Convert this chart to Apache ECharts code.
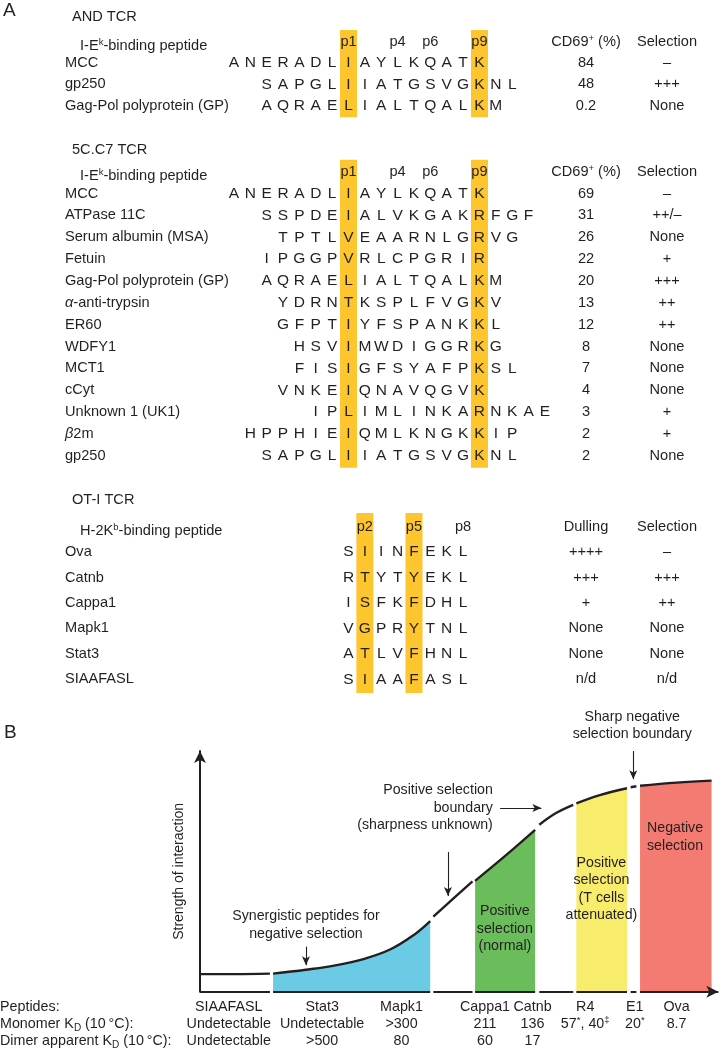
<!DOCTYPE html>
<html><head><meta charset="utf-8">
<script src="https://cdn.jsdelivr.net/npm/echarts@6/dist/echarts.min.js"></script>
<style>html,body{margin:0;padding:0;background:#fff}#c{width:725px;height:1050px}</style>
</head><body><div id="c"></div>
<script>
// ================= DATA =================
// Panel A — AND TCR (I-Ek-binding peptides)
const andPeptides = ['MCC', 'gp250', 'Gag-Pol polyprotein (GP)'];
const andSequences = ['ANERADLIAYLKQATK', 'SAPGLIIATGSVGKNL', 'AQRAELIALTQALKM'];
const andP1Index = [7, 5, 5];
const andCD69 = ['84', '48', '0.2'];
const andSelection = ['\u2013', '+++', 'None'];

// Panel A — 5C.C7 TCR
const c7Peptides = ['MCC', 'ATPase 11C', 'Serum albumin (MSA)', 'Fetuin', 'Gag-Pol polyprotein (GP)',
  '{it|\u03b1}-anti-trypsin', 'ER60', 'WDFY1', 'MCT1', 'cCyt', 'Unknown 1 (UK1)', '{it|\u03b2}2m', 'gp250'];
const c7Sequences = ['ANERADLIAYLKQATK', 'SSPDEIALVKGAKRFGF', 'TPTLVEAARNLGRVG', 'IPGGPVRLCPGRIR',
  'AQRAELIALTQALKM', 'YDRNTKSPLFVGKV', 'GFPTIYFSPANKKL', 'HSVIMWDIGGRKG', 'FISIGFSYAFPKSL',
  'VNKEIQNAVQGVK', 'IPLIMLINKARNKAE', 'HPPHIEIQMLKNGKKIP', 'SAPGLIIATGSVGKNL'];
const c7P1Index = [7, 5, 4, 5, 5, 4, 4, 3, 3, 4, 2, 6, 5];
const c7CD69 = ['69', '31', '26', '22', '20', '13', '12', '8', '7', '4', '3', '2', '2'];
const c7Selection = ['\u2013', '++/\u2013', 'None', '+', '+++', '++', '++', 'None', 'None', 'None', '+', '+', 'None'];

// MHC II pocket labels / anchors
const mhc2PosLabels = ['p1', 'p4', 'p6', 'p9'];
const mhc2PosNumbers = [1, 4, 6, 9];
const mhc2Anchors = [1, 9];

// Panel A — OT-I TCR (H-2Kb-binding peptides)
const otiPeptides = ['Ova', 'Catnb', 'Cappa1', 'Mapk1', 'Stat3', 'SIAAFASL'];
const otiSequences = ['SIINFEKL', 'RTYTYEKL', 'ISFKFDHL', 'VGPRYTNL', 'ATLVFHNL', 'SIAAFASL'];
const otiP1Index = [0, 0, 0, 0, 0, 0];
const otiDulling = ['++++', '+++', '+', 'None', 'None', 'n/d'];
const otiSelection = ['\u2013', '+++', '++', 'None', 'None', 'n/d'];
const mhc1PosLabels = ['p2', 'p5', 'p8'];
const mhc1PosNumbers = [2, 5, 8];
const mhc1Anchors = [2, 5];

// Panel B — schematic curve segments [strength position, strength of interaction]
const curveSIAAFASL = [[0, 7.2], [6.7, 7.2], [13.4, 7.4]];
const curveSynergistic = [[14.0, 7.4], [20.3, 9.0], [26.2, 10.9], [31.3, 13.4], [36.4, 17.3], [40.9, 23.2], [44.1, 29.0]];
const curvePosBoundary = [[44.7, 30.8], [48.4, 38.0], [52.2, 45.3]];
const curvePosNormal = [[52.7, 45.5], [58.4, 55.6], [64.2, 66.4]];
const curveUpper = [[65.0, 68.5], [68.2, 73.3], [71.5, 76.7]];
const curveAttenuated = [[72.1, 77.3], [76.6, 80.7], [81.8, 83.5]];
const curveNegBoundary = [[82.5, 83.9], [83.6, 84.3]];
const curveNegative = [[84.3, 84.5], [91.3, 85.8], [98.0, 86.6]];
const baselineSegments = [[0, 13.4], [14.0, 44.1], [44.7, 52.2], [52.7, 64.2], [65.0, 71.5], [72.1, 81.8], [82.5, 83.6], [84.3, 99.3]];

// Panel B — table below the axis
const tableRowLabels = ['Peptides:', 'Monomer K{sub|D} (10\u2009\u00b0C):', 'Dimer apparent K{sub|D} (10\u2009\u00b0C):'];
const bPeptides = ['SIAAFASL', 'Stat3', 'Mapk1', 'Cappa1', 'Catnb', 'R4', 'E1', 'Ova'];
const monomerKD = ['Undetectable', 'Undetectable', '>300', '211', '136', '57{sup|*}, 40{sup|\u2021}', '20{sup|*}', '8.7'];
const dimerKD = ['Undetectable', '>500', '80', '60', '17', '', '', ''];

// ================= LAYOUT =================
const FONT = '"Liberation Sans", Arial, Helvetica, sans-serif';
const INK = '#231f20';
const HILITE = '#fdc62e';
const A_P1_PX = 348.5, A_PXU = 16.37;
const A_MIN = -A_P1_PX / A_PXU, A_MAX = (725 - A_P1_PX) / A_PXU;
const ux = px => (px - A_P1_PX) / A_PXU;
const NAME_X = ux(65), HDR_NAME_X = ux(80), COL3_X = ux(586), COL4_X = ux(667);
const A_FS = 14.6;

const B_X0 = 200, B_PXU = 5.22, B_Y0 = 991.7, B_PYU = 2.437, B_TOP = 751;
const B_YMAX = (B_Y0 - B_TOP) / B_PYU;
const T_MIN = -B_X0 / B_PXU, T_MAX = (725 - B_X0) / B_PXU;
const peptideXPos = [5.5, 23.4, 38.6, 54.6, 63.7, 73.8, 83.3, 91.3];

const RICH = {
  sup: {fontSize: 9.5, verticalAlign: 'top', lineHeight: 9, fontFamily: FONT, fill: INK},
  sub: {fontSize: 10, verticalAlign: 'bottom', lineHeight: 9, fontFamily: FONT, fill: INK},
  it: {fontStyle: 'italic', fontSize: A_FS, fontFamily: FONT, fill: INK}
};

function sectionItems(names, seqs, p1s, c3, c4, posLabels, posNums, hdrName, hdr3, hdr4) {
  const items = [];
  items.push({x: HDR_NAME_X, y: 0, text: hdrName, align: 'left', dy: 4, size: A_FS});
  posLabels.forEach((t, k) => items.push({x: posNums[k] - 1, y: 0, text: t, size: A_FS}));
  items.push({x: COL3_X, y: 0, text: hdr3, size: A_FS});
  items.push({x: COL4_X, y: 0, text: hdr4, size: A_FS});
  names.forEach((n, i) => {
    items.push({x: NAME_X, y: i + 1, text: n, align: 'left', size: A_FS});
    const s = seqs[i];
    for (let j = 0; j < s.length; j++) items.push({x: j - p1s[i], y: i + 1, text: s[j], size: 15.5});
    items.push({x: COL3_X, y: i + 1, text: c3[i], size: A_FS});
    items.push({x: COL4_X, y: i + 1, text: c4[i], size: A_FS});
  });
  return items;
}

function textSeries(idx, items) {
  return {
    type: 'custom', xAxisIndex: idx, yAxisIndex: idx, z: 10, silent: true, clip: false,
    data: items.map((it, i) => [it.x, it.y, i]),
    encode: {x: 0, y: 1},
    renderItem: (params, api) => {
      const it = items[api.value(2)];
      const p = api.coord([api.value(0), api.value(1)]);
      return {type: 'text', x: p[0], y: p[1] + (it.dy || 0), style: {
        text: it.text, fill: INK, fontSize: it.size || 14, fontFamily: FONT,
        align: it.align || 'center', verticalAlign: 'middle', lineHeight: it.lh || 17.5, rich: RICH}};
    }
  };
}

function hiliteSeries(idx, anchors) {
  return {
    type: 'custom', xAxisIndex: idx, yAxisIndex: idx, z: 1, silent: true,
    data: anchors.map(a => [a - 1, 0]),
    encode: {x: 0, y: 1},
    renderItem: (params, api) => {
      const c = api.value(0);
      const a = api.coord([c - 0.52, 0])[0], b = api.coord([c + 0.52, 0])[0];
      const cs = params.coordSys;
      return {type: 'rect', shape: {x: a, y: cs.y - 1, width: b - a, height: cs.height + 2}, style: {fill: HILITE}};
    }
  };
}

const andItems = sectionItems(andPeptides, andSequences, andP1Index, andCD69, andSelection,
  mhc2PosLabels, mhc2PosNumbers, 'I-E{sup|k}-binding peptide', 'CD69{sup|+} (%)', 'Selection');
const c7Items = sectionItems(c7Peptides, c7Sequences, c7P1Index, c7CD69, c7Selection,
  mhc2PosLabels, mhc2PosNumbers, 'I-E{sup|k}-binding peptide', 'CD69{sup|+} (%)', 'Selection');
const otiItems = sectionItems(otiPeptides, otiSequences, otiP1Index, otiDulling, otiSelection,
  mhc1PosLabels, mhc1PosNumbers, 'H-2K{sup|b}-binding peptide', 'Dulling', 'Selection');

// Panel B annotations (in curve coordinates)
const ANN_FS = 14.2;
const annotations = [
  {x: 20.3, y: 27.4, text: 'Synergistic peptides for\nnegative selection', size: ANN_FS},
  {x: 56.1, y: 75.4, text: 'Positive selection\nboundary\n(sharpness unknown)', size: ANN_FS, align: 'right'},
  {x: 82.8, y: 109.2, text: 'Sharp negative\nselection boundary', size: ANN_FS},
  {x: 91.0, y: 63.5, text: 'Negative\nselection', size: ANN_FS},
  {x: 76.9, y: 42.1, text: 'Positive\nselection\n(T cells\nattenuated)', size: ANN_FS},
  {x: 58.4, y: 25.7, text: 'Positive\nselection\n(normal)', size: ANN_FS}
];
const arrows = [
  [[20.3, 18.5], [20.3, 10.9]],
  [[57.5, 75.4], [65.4, 75.4]],
  [[47.5, 57.3], [47.5, 39.3]],
  [[83.0, B_YMAX], [83.0, 87.2]]
];

const T_FS = 14.3;
const tableItems = [];
tableRowLabels.forEach((t, r) => tableItems.push({x: T_MIN, y: r, text: t, align: 'left', size: T_FS}));
bPeptides.forEach((p, i) => {
  tableItems.push({x: peptideXPos[i], y: 0, text: p, size: T_FS});
  tableItems.push({x: peptideXPos[i], y: 1, text: monomerKD[i], size: T_FS});
  if (dimerKD[i]) tableItems.push({x: peptideXPos[i], y: 2, text: dimerKD[i], size: T_FS});
});

function curveSeries(data, fill) {
  const s = {type: 'line', xAxisIndex: 3, yAxisIndex: 3, data: data, smooth: 0.4, symbol: 'none',
    lineStyle: {color: INK, width: 2.4}, z: 3, silent: true};
  if (fill) s.areaStyle = {color: fill, opacity: 1};
  return s;
}

const curveSeriesList = [
  curveSeries(curveSIAAFASL, null),
  curveSeries(curveSynergistic, '#6ccbe4'),
  curveSeries(curvePosBoundary, null),
  curveSeries(curvePosNormal, '#6abd5a'),
  curveSeries(curveUpper, null),
  curveSeries(curveAttenuated, '#f7ec6b'),
  curveSeries(curveNegBoundary, null),
  curveSeries(curveNegative, '#f37b71')
];
curveSeriesList[0].markLine = {
  silent: true, animation: false, label: {show: false},
  data: baselineSegments.map((seg, i) => [
    {coord: [seg[0], 0], symbol: 'none'},
    {coord: [seg[1], 0], symbol: i === baselineSegments.length - 1 ? 'arrow' : 'none', symbolSize: [9, 12]}
  ]),
  lineStyle: {color: INK, width: 2, type: 'solid'}
};
curveSeriesList[2].markLine = {
  silent: true, animation: false, label: {show: false},
  data: arrows.map(a => [{coord: a[0], symbol: 'none'}, {coord: a[1], symbol: 'arrow', symbolSize: [6, 9]}]),
  lineStyle: {color: INK, width: 1.1, type: 'solid'}
};

const titleStyle = (size) => ({fontSize: size, fontWeight: 'normal', color: INK, fontFamily: FONT, lineHeight: 18});

const option = {
  animation: false,
  backgroundColor: '#fff',
  title: [
    {text: 'A', left: 3, top: 2, padding: 0, textStyle: titleStyle(19)},
    {text: 'AND TCR', left: 72, top: 8, padding: 0, textStyle: titleStyle(14.6)},
    {text: '5C.C7 TCR', left: 72, top: 141, padding: 0, textStyle: titleStyle(14.6)},
    {text: 'OT-I TCR', left: 72, top: 491, padding: 0, textStyle: titleStyle(14.6)},
    {text: 'B', left: 4, top: 724, padding: 0, textStyle: titleStyle(19)}
  ],
  grid: [
    {left: 0, width: 725, top: 31, height: 85.2},
    {left: 0, width: 725, top: 160.8, height: 305.9},
    {left: 0, width: 725, top: 514, height: 178},
    {left: B_X0, width: 100 * B_PXU, top: B_TOP, height: B_Y0 - B_TOP},
    {left: 0, width: 725, top: 998, height: 52}
  ],
  xAxis: [
    {gridIndex: 0, type: 'value', min: A_MIN, max: A_MAX, show: false},
    {gridIndex: 1, type: 'value', min: A_MIN, max: A_MAX, show: false},
    {gridIndex: 2, type: 'value', min: A_MIN, max: A_MAX, show: false},
    {gridIndex: 3, type: 'value', min: 0, max: 100, show: false},
    {gridIndex: 4, type: 'value', min: T_MIN, max: T_MAX, show: false}
  ],
  yAxis: [
    {gridIndex: 0, type: 'value', min: -0.5, max: 3.5, inverse: true, show: false},
    {gridIndex: 1, type: 'value', min: -0.5, max: 13.5, inverse: true, show: false},
    {gridIndex: 2, type: 'value', min: -0.5, max: 6.5, inverse: true, show: false},
    {gridIndex: 3, type: 'value', min: 0, max: B_YMAX,
      axisLine: {show: true, symbol: ['none', 'arrow'], symbolSize: [9, 12], lineStyle: {color: INK, width: 2}},
      axisTick: {show: false}, axisLabel: {show: false}, splitLine: {show: false},
      name: 'Strength of interaction', nameLocation: 'middle', nameGap: 14,
      nameTextStyle: {fontSize: 14, color: INK, fontFamily: FONT}},
    {gridIndex: 4, type: 'value', min: -0.5, max: 2.5, inverse: true, show: false}
  ],
  series: [
    hiliteSeries(0, mhc2Anchors),
    hiliteSeries(1, mhc2Anchors),
    hiliteSeries(2, mhc1Anchors),
    textSeries(0, andItems),
    textSeries(1, c7Items),
    textSeries(2, otiItems),
    ...curveSeriesList,
    textSeries(3, annotations),
    textSeries(4, tableItems)
  ]
};

const chart = echarts.init(document.getElementById('c'), null, {renderer: 'canvas', width: 725, height: 1050});
chart.setOption(option);
</script>
</body></html>
